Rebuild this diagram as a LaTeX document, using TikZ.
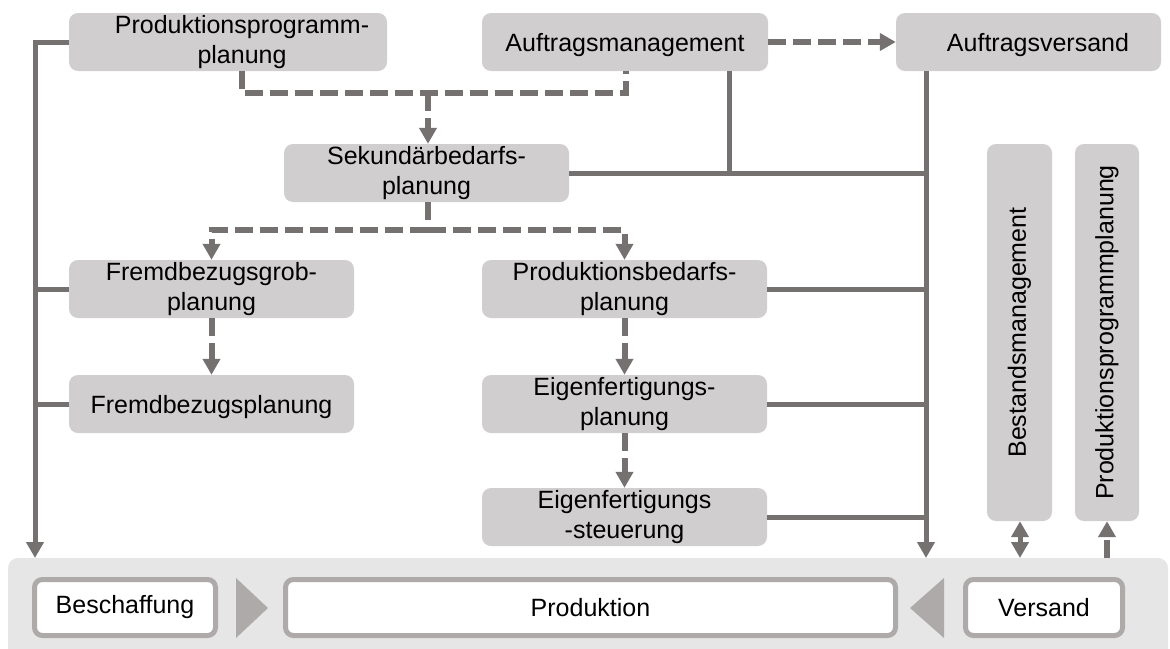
\documentclass[tikz,border=0pt]{standalone}
\usepackage{fontspec}
\setmainfont{Liberation Sans}
\usetikzlibrary{arrows.meta}
\definecolor{linegray}{HTML}{767171}
\definecolor{boxgray}{HTML}{D0CECE}
\definecolor{bandgray}{HTML}{E7E6E6}
\definecolor{framegray}{HTML}{AEAAAA}
\begin{document}
\begin{tikzpicture}[x=1pt,y=-1pt,
  font=\fontsize{25pt}{30pt}\selectfont,
  box/.style={fill=boxgray, rounded corners=9pt, inner sep=0pt,
    minimum height=58pt, align=center,
    execute at begin node={\rule{0pt}{24pt}}},
  conn/.style={draw=linegray, line width=5pt},
  flow/.style={draw=linegray, line width=6pt, dash pattern=on 18pt off 7pt},
  tip/.style={-{Triangle[length=16pt,width=17pt]}},
  twotip/.style={{Triangle[length=16pt,width=17pt]}-{Triangle[length=16pt,width=17pt]}},
  stage/.style={draw=framegray, fill=white, line width=5pt, rounded corners=8pt,
    minimum height=56pt, inner sep=0pt},
  chev/.style={fill=framegray}]
\clip (0,0) rectangle (1170,648);

% process band at the bottom
\fill[bandgray, rounded corners=10pt] (8,558) rectangle (1168,660);
\node[stage, minimum width=181pt] (besch) at (125,607.5) {Beschaffung};
\node[stage, minimum width=610pt] (prod) at (590.5,607.5) {Produktion};
\node[stage, minimum width=157pt] (vers) at (1044,607.5) {Versand};
\fill[chev] (236,578) -- (268,608) -- (236,638) -- cycle;
\fill[chev] (944,578) -- (910,608) -- (944,638) -- cycle;

% planning functions
\node[box, minimum width=318pt] (ppp) at (228,42)
  {\hspace*{28pt}Produktionsprogramm-\\\hspace*{28pt}planung};
\node[box, minimum width=286pt] (am) at (625,42) {Auftragsmanagement};
\node[box, minimum width=265pt] (av) at (1028.5,42) {\hspace*{19pt}Auftragsversand};
\node[box, minimum width=285pt] (sek) at (426.5,173) {Sekundärbedarfs-\\planung};
\node[box, minimum width=285pt] (fgp) at (211.5,289) {Fremdbezugsgrob-\\planung};
\node[box, minimum width=285pt] (fp) at (211.5,404) {Fremdbezugsplanung};
\node[box, minimum width=285pt] (pbp) at (624.5,289) {Produktionsbedarfs-\\planung};
\node[box, minimum width=285pt] (efp) at (624.5,404) {Eigenfertigungs-\\planung};
\node[box, minimum width=285pt] (efs) at (624.5,517) {Eigenfertigungs\\-steuerung};
\node[box, minimum width=65pt, minimum height=377pt] (bm) at (1019.5,332.5)
  {\rotatebox{90}{Bestandsmanagement}};
\node[box, minimum width=64pt, minimum height=377pt] (ppv) at (1107,332.5)
  {\rotatebox{90}{Produktionsprogrammplanung}};

% junction points
\coordinate (lb) at (35,558);
\coordinate (rb) at (926,558);
\coordinate (amj) at (729,71);
\coordinate (d1) at (242,71);
\coordinate (d2) at (626,71);
\coordinate (dm) at (428,93);
\coordinate (s1) at (428,230);
\coordinate (bmb) at (1020,558);
\coordinate (ppb) at (1107,558);

% procurement trunk
\draw[conn, tip] (ppp.west) -| (lb);
\draw[conn] (fgp.west) -- (fgp.west -| lb);
\draw[conn] (fp.west) -- (fp.west -| lb);

% production trunk
\draw[conn, tip] (av.south -| rb) -- (rb);
\draw[conn] (sek.east) -- (sek.east -| rb);
\draw[conn] (amj) -- (amj |- sek.east);
\draw[conn] (pbp.east) -- (pbp.east -| rb);
\draw[conn] (efp.east) -- (efp.east -| rb);
\draw[conn] (efs.east) -- (efs.east -| rb);

% dashed planning flow
\draw[flow, tip] (am.east) -- (av.west);
\draw[flow] (d1) -- ++(0,22) -| (d2);
\draw[flow, tip] (dm) -- (dm |- sek.north);
\draw[flow] (sek.south -| s1) -- (s1);
\draw[flow, tip] (s1) -| (fgp.north);
\draw[flow, tip] (s1) -| (pbp.north);
\draw[flow, tip] (fgp.south) -- (fp.north);
\draw[flow, tip] (pbp.south) -- (efp.north);
\draw[flow, tip] (efp.south) -- (efs.north);

% links to the shipping stage
\draw[conn, twotip] (bm.south -| bmb) -- (bmb);
\draw[flow, tip] (ppb) -- (ppv.south);
\end{tikzpicture}
\end{document}
